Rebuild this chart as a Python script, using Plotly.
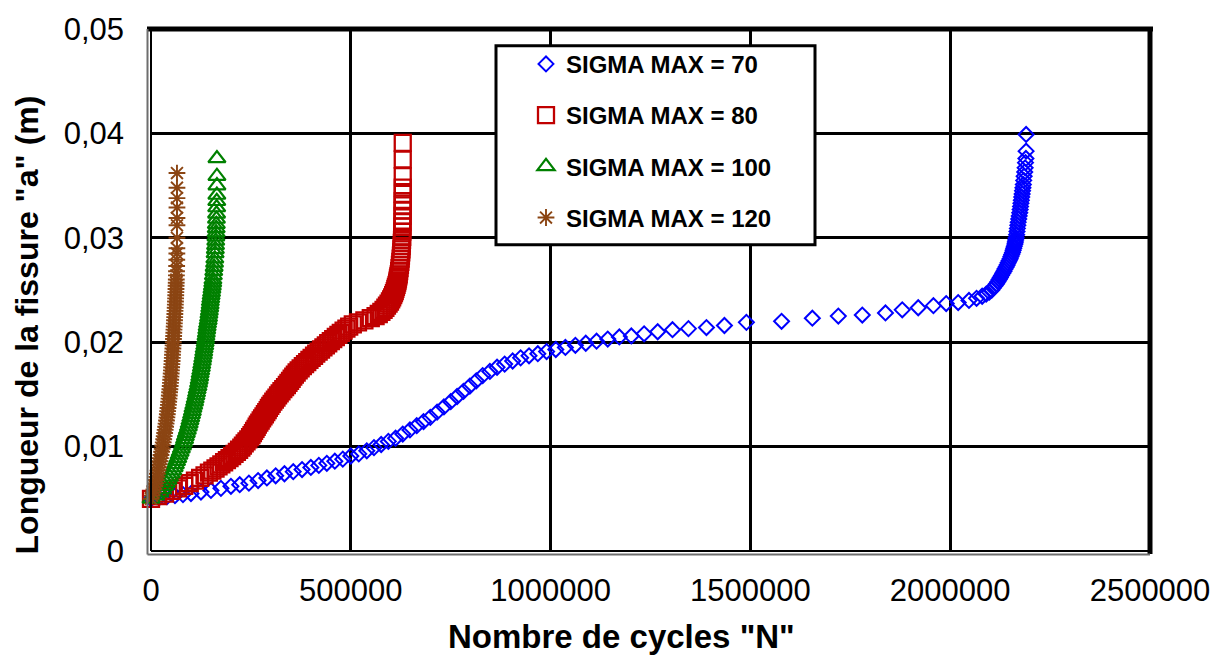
import plotly.graph_objects as go

# Crack length a (m) versus number of cycles N for four maximum stress levels

# SIGMA MAX = 70
blue_N = [0, 20000, 40000, 60000, 80000, 100000, 125000, 150000, 175000, 200000,
          222000, 245000, 268000, 290000, 312000, 334000, 356000, 378000, 400000, 420000,
          440000, 460000, 480000, 500000, 520000, 540000, 558000, 576000, 594000, 612000,
          630000, 648000, 665000, 682000, 699000, 716000, 733000, 750000, 766000, 782000,
          798000, 814000, 830000, 848000, 866000, 885000, 905000, 925000, 946000, 968000,
          990000, 1013000, 1037000, 1062000, 1088000, 1115000, 1143000, 1172000, 1202000, 1234000,
          1268000, 1305000, 1345000, 1390000, 1435000, 1490000, 1578000, 1655000, 1720000, 1780000,
          1838000, 1880000, 1920000, 1958000, 1990000, 2020000,
          2047000, 2066000, 2080000, 2090000, 2098000, 2104000, 2108000, 2112000, 2116000, 2119500,
          2122500, 2125500, 2128500, 2131500, 2134500, 2137000, 2140000, 2142500, 2145000, 2147500,
          2150000, 2152000, 2154000, 2156000, 2157500, 2159000, 2160500, 2162000, 2163000, 2164000,
          2165000, 2166200, 2167200, 2168200, 2169200, 2170200, 2171500, 2172800, 2174000, 2175000,
          2176000, 2177000, 2178000, 2179000, 2180000, 2181000, 2182000, 2183000, 2184000, 2185000,
          2186500, 2187500, 2188500, 2189500, 2190000, 2190000]
blue_a = [0.0050, 0.0051, 0.0052, 0.0053, 0.0054, 0.0055, 0.00565, 0.0058, 0.0060, 0.0062,
          0.00635, 0.0065, 0.00675, 0.0070, 0.0072, 0.0074, 0.0076, 0.0078, 0.0080, 0.0082,
          0.0084, 0.0086, 0.0088, 0.0091, 0.0093, 0.0096, 0.0099, 0.0102, 0.0105, 0.0108,
          0.0112, 0.0116, 0.0120, 0.0124, 0.0128, 0.0133, 0.0138, 0.0143, 0.0148, 0.0153,
          0.0158, 0.0163, 0.0168, 0.0172, 0.0176, 0.0179, 0.0182, 0.0185, 0.0187, 0.0189,
          0.0191, 0.0193, 0.0195, 0.0197, 0.0199, 0.0201, 0.0203, 0.0205, 0.0206, 0.0208,
          0.0210, 0.0212, 0.0213, 0.0214, 0.0216, 0.0219, 0.0220, 0.0223, 0.0225, 0.0226,
          0.0228, 0.0231, 0.0233, 0.0235, 0.0237, 0.0238,
          0.0240, 0.0242, 0.0244, 0.0246, 0.0248, 0.0250, 0.0252, 0.0254, 0.0256, 0.0258,
          0.0260, 0.0262, 0.0264, 0.0266, 0.0268, 0.0270, 0.0272, 0.0274, 0.0276, 0.0278,
          0.0280, 0.0282, 0.0284, 0.0286, 0.0288, 0.0290, 0.0292, 0.0294, 0.0296, 0.0298,
          0.0300, 0.0303, 0.0306, 0.0309, 0.0312, 0.0315, 0.0318, 0.0321, 0.0324, 0.0327,
          0.0330, 0.0333, 0.0336, 0.0339, 0.0342, 0.0345, 0.0348, 0.0351, 0.0355, 0.0359,
          0.0363, 0.0367, 0.0372, 0.0376, 0.0383, 0.0399]

# SIGMA MAX = 80
red_N = [0, 18000, 35000, 52000, 68000, 83000, 97000, 110000, 123000, 134000,
         145000, 153500, 161500, 169000, 176000, 183000, 190000, 196500, 203000, 209000,
         215000, 220500, 226000, 230000, 234500, 239000, 243500, 248000, 251500, 255000,
         258000, 261500, 264500, 267500, 271000, 274500, 278000, 281500, 285000, 288500,
         292000, 295000, 298500, 302000, 306000, 310000, 314000, 318000, 322000, 326500,
         331000, 335500, 340000, 344000, 348000, 352000, 356000, 360000, 364500, 369500,
         374500, 380000, 385500, 391000, 396500, 402000, 408000, 413500, 419500, 425500,
         431500, 437500, 443500, 450000, 456000, 462500, 469000, 475000, 482000, 489000,
         496000, 505000, 518000, 534000, 550000, 562000, 570000, 576500, 582000, 586500,
         590500, 594500, 598000, 601000, 603500, 606000, 608000, 610000, 611500, 613000,
         614500, 616000, 617000, 618000, 619000, 620000, 621000, 622000, 623000, 624000,
         624800, 625500, 626200, 626800, 627300, 627800, 628200, 628600, 629000, 629300,
         629500, 629700, 629800, 630000, 630000, 630000, 630000, 630000, 630000, 630000]
red_a = [0.0050, 0.00525, 0.0055, 0.00575, 0.0060, 0.00625, 0.0065, 0.00675, 0.0070, 0.00725,
         0.0075, 0.0077, 0.0079, 0.0081, 0.0083, 0.0085, 0.0087, 0.0089, 0.0091, 0.0093,
         0.0095, 0.0097, 0.0099, 0.0101, 0.0103, 0.0105, 0.0107, 0.0109, 0.0111, 0.0113,
         0.0115, 0.0117, 0.0119, 0.0121, 0.0123, 0.0125, 0.0127, 0.0129, 0.0131, 0.0133,
         0.0135, 0.0137, 0.0139, 0.0141, 0.0143, 0.0145, 0.0147, 0.0149, 0.0151, 0.0153,
         0.0155, 0.0157, 0.0159, 0.0161, 0.0163, 0.0165, 0.0167, 0.0169, 0.0171, 0.0173,
         0.0175, 0.0177, 0.0179, 0.0181, 0.0183, 0.0185, 0.0187, 0.0189, 0.0191, 0.0193,
         0.0195, 0.0197, 0.0199, 0.0201, 0.0203, 0.0205, 0.0207, 0.0209, 0.0211, 0.0213,
         0.0215, 0.0217, 0.0219, 0.0221, 0.0223, 0.0225, 0.0227, 0.0229, 0.0231, 0.0233,
         0.0235, 0.0237, 0.0239, 0.0241, 0.0243, 0.0245, 0.0247, 0.0249, 0.0251, 0.0253,
         0.0255, 0.0257, 0.0259, 0.0261, 0.0263, 0.0265, 0.0268, 0.0271, 0.0274, 0.0277,
         0.0280, 0.0283, 0.0286, 0.0289, 0.0292, 0.0295, 0.0298, 0.0301, 0.0306, 0.0311,
         0.0315, 0.0321, 0.0326, 0.0331, 0.0335, 0.0342, 0.0348, 0.0359, 0.0375, 0.0391]

# SIGMA MAX = 100
green_N = [0, 12000, 22000, 29000, 34000, 38500, 42500, 46500, 50500, 54500,
           58000, 61000, 64000, 67000, 70000, 73000, 76000, 79000, 81500, 84000,
           86000, 88500, 91000, 93500, 95500, 97500, 99500, 101500, 103500, 105000,
           107000, 109000, 110500, 112500, 114000, 115500, 117500, 119000, 120500, 122000,
           123000, 124500, 126000, 127000, 128500, 129500, 131000, 132000, 133000, 134500,
           135500, 136500, 137500, 138500, 139500, 140500, 141500, 143000, 144000, 145000,
           146000, 147000, 148000, 148500, 149500, 150500, 151500, 152500, 153500, 154500,
           155000, 156000, 157000, 158000, 159000, 159700, 160400, 161000, 161500, 162000,
           162400, 162800, 163200, 163500, 163800, 164100, 164400, 164600, 164800, 165000,
           165000, 165000]
green_a = [0.0050, 0.0053, 0.0056, 0.0059, 0.0062, 0.0065, 0.0068, 0.0071, 0.0074, 0.0077,
           0.0080, 0.0083, 0.0086, 0.0089, 0.0092, 0.0095, 0.0098, 0.0101, 0.0104, 0.0107,
           0.0110, 0.0113, 0.0116, 0.0119, 0.0122, 0.0125, 0.0128, 0.0131, 0.0134, 0.0137,
           0.0140, 0.0143, 0.0146, 0.0149, 0.0152, 0.0155, 0.0158, 0.0161, 0.0164, 0.0167,
           0.0170, 0.0173, 0.0176, 0.0179, 0.0182, 0.0185, 0.0188, 0.0191, 0.0194, 0.0197,
           0.0200, 0.0203, 0.0206, 0.0209, 0.0212, 0.0215, 0.0218, 0.0221, 0.0224, 0.0227,
           0.0230, 0.0233, 0.0236, 0.0239, 0.0242, 0.0245, 0.0248, 0.0251, 0.0254, 0.0257,
           0.0260, 0.0264, 0.0268, 0.0272, 0.0276, 0.0280, 0.0285, 0.0289, 0.0293, 0.0297,
           0.0301, 0.0305, 0.0309, 0.0313, 0.0318, 0.0323, 0.0329, 0.0335, 0.0341, 0.0350,
           0.0359, 0.0376]

# SIGMA MAX = 120
brown_N = [0, 2500, 5000, 7300, 9300, 11200, 13000, 14500, 16000, 17500,
           19000, 20500, 22000, 23500, 25000, 26500, 28000, 29400, 30600, 31800,
           33000, 34200, 35400, 36600, 37700, 38800, 39800, 40800, 41700, 42600,
           43500, 44300, 45100, 45800, 46500, 47300, 48000, 48700, 49300, 49900,
           50500, 51100, 51700, 52300, 52800, 53300, 53800, 54300, 54800, 55300,
           55800, 56200, 56700, 57100, 57500, 58000, 58400, 58900, 59300, 59700,
           60100, 60500, 60900, 61200, 61600, 61900, 62200, 62500, 62800, 63100,
           63300, 63600, 63900, 64200, 64500, 64700, 64800, 65000, 65000, 65000,
           65000, 65000, 65000, 65000]
brown_a = [0.0050, 0.0053, 0.0056, 0.0059, 0.0062, 0.0065, 0.0068, 0.0071, 0.0074, 0.0077,
           0.0080, 0.0083, 0.0086, 0.0089, 0.0092, 0.0095, 0.0098, 0.0101, 0.0104, 0.0107,
           0.0110, 0.0113, 0.0116, 0.0119, 0.0122, 0.0125, 0.0128, 0.0131, 0.0134, 0.0137,
           0.0140, 0.0143, 0.0146, 0.0149, 0.0152, 0.0155, 0.0158, 0.0161, 0.0164, 0.0167,
           0.0170, 0.0173, 0.0176, 0.0179, 0.0182, 0.0185, 0.0188, 0.0191, 0.0194, 0.0197,
           0.0200, 0.0203, 0.0206, 0.0209, 0.0212, 0.0215, 0.0218, 0.0221, 0.0224, 0.0227,
           0.0230, 0.0233, 0.0236, 0.0239, 0.0242, 0.0245, 0.0248, 0.0251, 0.0254, 0.0257,
           0.0260, 0.0264, 0.0268, 0.0273, 0.0279, 0.0285, 0.0290, 0.0300, 0.0312, 0.0319,
           0.0329, 0.0338, 0.0348, 0.0362]

series_names = ["SIGMA MAX = 70", "SIGMA MAX = 80", "SIGMA MAX = 100", "SIGMA MAX = 120"]

x_tickvals = [0, 500000, 1000000, 1500000, 2000000, 2500000]
x_ticktext = ["0", "500000", "1000000", "1500000", "2000000", "2500000"]
y_tickvals = [0, 0.01, 0.02, 0.03, 0.04, 0.05]
y_ticktext = ["0", "0,01", "0,02", "0,03", "0,04", "0,05"]

FONT = "Liberation Sans, Arial, sans-serif"

styles = [
    dict(symbol="diamond-open", color="#0000FF", size=11.5, lw=2),
    dict(symbol="square-open", color="#C00000", size=16, lw=2.3),
    dict(symbol="triangle-up-open", color="#008000", size=15, lw=2.2),
    dict(symbol="asterisk-open", color="#8B4513", size=14, lw=1.9),
]
data = [(blue_N, blue_a), (red_N, red_a), (green_N, green_a), (brown_N, brown_a)]

fig = go.Figure()
for i, ((xs, ys), name, st) in enumerate(zip(data, series_names, styles)):
    fig.add_trace(go.Scatter(
        x=xs, y=ys, mode="markers", name=name, legendgroup=f"g{i}",
        cliponaxis=False,
        marker=dict(symbol=st["symbol"], size=st["size"], color=st["color"],
                    line=dict(width=st["lw"], color=st["color"])),
    ))

W, H = 1228, 661
L, R, T, B = 151, 78, 21, 110
pw, ph = W - L - R, H - T - B


def px_x(p):
    return (p - L) / pw


def px_y(p):
    return (H - B - p) / ph


shapes = [
    # legend box
    dict(type="rect", xref="paper", yref="paper", x0=px_x(496), x1=px_x(815),
         y0=px_y(240), y1=px_y(38), line=dict(color="black", width=3),
         fillcolor="white", layer="above"),
    # frame: thick top and right, double left and bottom
    dict(type="line", xref="paper", yref="paper", x0=px_x(147), x1=1.003, y0=1, y1=1,
         line=dict(color="black", width=5)),
    dict(type="line", xref="paper", yref="paper", x0=1, x1=1, y0=px_y(554), y1=1.004,
         line=dict(color="black", width=5)),
    dict(type="line", xref="paper", yref="paper", x0=0, x1=0, y0=0, y1=1,
         line=dict(color="black", width=2)),
    dict(type="line", xref="paper", yref="paper", x0=px_x(147.5), x1=px_x(147.5),
         y0=px_y(554.5), y1=1, line=dict(color="#6e6e6e", width=2)),
    dict(type="line", xref="paper", yref="paper", x0=0, x1=1, y0=0, y1=0,
         line=dict(color="black", width=2)),
    dict(type="line", xref="paper", yref="paper", x0=px_x(147.5), x1=1,
         y0=px_y(554.5), y1=px_y(554.5), line=dict(color="#6e6e6e", width=2)),
]

fig.update_layout(
    width=W, height=H,
    margin=dict(l=L, r=R, t=T, b=B),
    plot_bgcolor="white", paper_bgcolor="white",
    font=dict(family=FONT, color="black"),
    shapes=shapes,
    showlegend=True,
    legend=dict(
        x=px_x(526), y=px_y(34), xanchor="left", yanchor="top",
        bgcolor="rgba(0,0,0,0)", borderwidth=0,
        font=dict(family=FONT, size=24, color="black", weight="bold"),
        tracegroupgap=17, itemwidth=30,
    ),
    xaxis=dict(
        range=[0, 2500000], tickmode="array", tickvals=x_tickvals, ticktext=x_ticktext,
        showgrid=True, gridcolor="black", gridwidth=3, zeroline=False, showline=False,
        ticks="", ticklabelstandoff=18, tickfont=dict(family=FONT, size=31, color="black"),
    ),
    yaxis=dict(
        range=[0, 0.05], tickmode="array", tickvals=y_tickvals, ticktext=y_ticktext,
        showgrid=True, gridcolor="black", gridwidth=3, zeroline=False, showline=False,
        ticks="", ticklabelstandoff=26, tickfont=dict(family=FONT, size=31, color="black"),
    ),
    annotations=[
        dict(text='<b>Nombre de cycles "N"</b>', xref="paper", yref="paper",
             x=px_x(621), y=px_y(638), xanchor="center", yanchor="middle",
             showarrow=False, font=dict(family=FONT, size=33, color="black")),
        dict(text='<b>Longueur de la fissure "a" (m)</b>', xref="paper", yref="paper",
             x=px_x(27), y=px_y(322), xanchor="center", yanchor="middle", textangle=-90,
             showarrow=False, font=dict(family=FONT, size=32, color="black")),
    ],
)

fig.write_html("out.html")
